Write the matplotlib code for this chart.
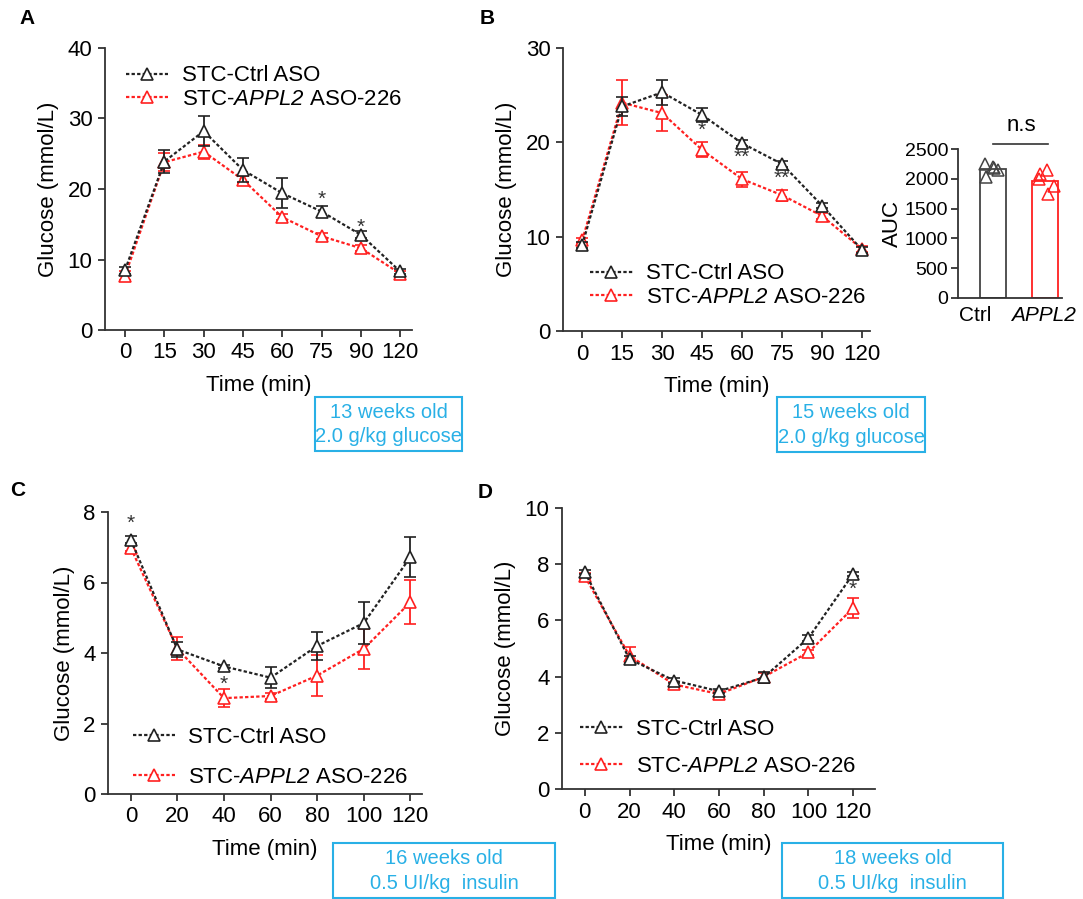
import numpy as np
import matplotlib
matplotlib.use("Agg")
import matplotlib.pyplot as plt
from matplotlib.patches import Rectangle
from matplotlib.lines import Line2D

plt.rcParams['font.family'] = ['Liberation Sans', 'DejaVu Sans']
plt.rcParams['mathtext.fontset'] = 'custom'
plt.rcParams['mathtext.rm'] = 'Liberation Sans:italic'
plt.rcParams['mathtext.it'] = 'Liberation Sans:italic'

W, H = 1083, 899
NEGRO = '#222222'
ROJO = '#FF2020'
AZUL = '#29B0E6'
FS = 16

# ---- datos panel A (GTT 13 semanas)
a_tiempo = ['0', '15', '30', '45', '60', '75', '90', '120']
a_ctrl = [8.5, 23.9, 28.2, 22.7, 19.4, 16.8, 13.5, 8.3]
a_ctrl_err = [0.5, 1.6, 2.1, 1.7, 2.1, 0.8, 0.5, 0.3]
a_aso = [7.7, 23.8, 25.3, 21.3, 16.0, 13.3, 11.6, 8.0]
a_aso_err = [0.6, 1.3, 1.0, 0.5, 0.4, 0.4, 0.4, 0.4]
a_sig = ['', '', '', '', '', '*', '*', '']

# ---- datos panel B (GTT 15 semanas)
b_tiempo = ['0', '15', '30', '45', '60', '75', '90', '120']
b_ctrl = [9.1, 23.8, 25.3, 22.9, 19.9, 17.7, 13.3, 8.6]
b_ctrl_err = [0.3, 1.0, 1.3, 0.7, 0.3, 0.3, 0.3, 0.3]
b_aso = [9.6, 24.2, 23.1, 19.2, 16.1, 14.4, 12.2, 8.7]
b_aso_err = [0.3, 2.4, 1.9, 0.8, 0.8, 0.6, 0.3, 0.3]
b_sig = ['', '', '', '*', '**', '**', '', '']

# ---- AUC panel B
auc_grupos = ['Ctrl', 'APPL2']
auc_ctrl = [2254, 2030, 2192, 2175, 2153]
auc_aso = [2140, 2000, 1880, 1740, 2080]
jit_ctrl = [-0.3, -0.28, -0.02, 0.02, 0.2]
jit_aso = [0.04, -0.12, 0.18, 0.06, -0.1]

# ---- datos panel C (ITT 16 semanas)
c_tiempo = ['0', '20', '40', '60', '80', '100', '120']
c_ctrl = [7.21, 4.1, 3.62, 3.30, 4.2, 4.85, 6.72]
c_ctrl_err = [0.1, 0.2, 0.05, 0.3, 0.4, 0.6, 0.57]
c_aso = [6.98, 4.12, 2.72, 2.78, 3.36, 4.12, 5.44]
c_aso_err = [0.08, 0.32, 0.25, 0.08, 0.58, 0.57, 0.62]
c_sig = ['*', '', '*', '', '', '', '']

# ---- datos panel D (ITT 18 semanas)
d_tiempo = ['0', '20', '40', '60', '80', '100', '120']
d_ctrl = [7.72, 4.62, 3.86, 3.48, 3.97, 5.37, 7.65]
d_ctrl_err = [0.08, 0.12, 0.1, 0.08, 0.2, 0.1, 0.08]
d_aso = [7.57, 4.74, 3.72, 3.38, 3.99, 4.86, 6.44]
d_aso_err = [0.1, 0.3, 0.1, 0.1, 0.15, 0.1, 0.36]
d_sig = ['', '', '', '', '', '', '*']

lab_ctrl = 'STC-Ctrl ASO'
lab_aso = r'STC-$\mathrm{APPL2}$ ASO-226'
LS = (0, (1.5, 1))


def caja(x0, y0, x1, y1):
    # rectangulo en pixeles (y desde arriba)
    return [x0 / W, 1 - y1 / H, (x1 - x0) / W, (y1 - y0) / H]


def estilo(ax):
    for s in ['top', 'right']:
        ax.spines[s].set_visible(False)
    for s in ['left', 'bottom']:
        ax.spines[s].set_linewidth(1.3)
        ax.spines[s].set_color('#333333')
    ax.tick_params(direction='out', length=5, width=1.3, color='#333333',
                   labelsize=FS, pad=4)


def curva(ax, y, err, color, z):
    x = np.arange(len(y))
    ax.errorbar(x, y, yerr=err, color=color, ls=LS, lw=1.6,
                marker='^', ms=9, mfc='white', mec=color, mew=1.2,
                capsize=4, elinewidth=1.3, capthick=1.3, zorder=z)


def panel(rect, tiempo, ctrl, ctrl_err, aso, aso_err, sig, sig_y, ylim, yticks,
          xlim, leg_anchor, leg_sp):
    ax = fig.add_axes(rect)
    curva(ax, aso, aso_err, ROJO, 3)
    curva(ax, ctrl, ctrl_err, NEGRO, 4)
    for i, s in enumerate(sig):
        if s:
            ax.text(i, sig_y[i], s, ha='center', va='center', fontsize=15,
                    color='#333333', zorder=5)
    ax.set_xticks(np.arange(len(tiempo)))
    ax.set_xticklabels(tiempo)
    ax.set_xlim(*xlim)
    ax.set_ylim(*ylim)
    ax.set_yticks(yticks)
    ax.set_ylabel('Glucose (mmol/L)', fontsize=FS, labelpad=6)
    ax.set_xlabel('Time (min)', fontsize=FS, labelpad=8)
    estilo(ax)
    h = [Line2D([], [], color=NEGRO, ls=LS, lw=1.6, marker='^', ms=9,
                mfc='white', mec=NEGRO, mew=1.2),
         Line2D([], [], color=ROJO, ls=LS, lw=1.6, marker='^', ms=9,
                mfc='white', mec=ROJO, mew=1.2)]
    ax.legend(h, [lab_ctrl, lab_aso], loc='upper left', bbox_to_anchor=leg_anchor,
              frameon=False, fontsize=FS, handlelength=1.9, handletextpad=0.6,
              labelspacing=leg_sp, borderaxespad=0)
    return ax


fig = plt.figure(figsize=(W / 100, H / 100), dpi=100)

# A
a_sig_y = [0, 0, 0, 0, 0, 18.6, 14.6, 0]
panel(caja(105, 48, 412, 330), a_tiempo, a_ctrl, a_ctrl_err, a_aso, a_aso_err,
      a_sig, a_sig_y, (0, 40), [0, 10, 20, 30, 40], (-0.51, 7.3),
      (0.04, 0.97), 0.12)

# B
b_sig_y = [0, 0, 0, 21.3, 18.4, 16.2, 0, 0]
panel(caja(563, 48, 870, 331), b_tiempo, b_ctrl, b_ctrl_err, b_aso, b_aso_err,
      b_sig, b_sig_y, (0, 30), [0, 10, 20, 30], (-0.48, 7.2),
      (0.06, 0.27), 0.1)

# AUC inset
axi = fig.add_axes(caja(958, 149, 1062, 298))
axi.bar([0], [np.mean(auc_ctrl)], width=0.5, color='white', edgecolor='#444444', lw=1.3)
axi.bar([1], [np.mean(auc_aso)], width=0.5, color='white', edgecolor=ROJO, lw=1.3)
axi.plot(np.array(jit_ctrl) * 0.5, auc_ctrl, ls='none', marker='^', ms=8,
         mfc='none', mec='#444444', mew=1.1)
axi.plot(1 + np.array(jit_aso), auc_aso, ls='none', marker='^', ms=8,
         mfc='none', mec=ROJO, mew=1.1)
axi.set_xlim(-0.68, 1.33)
axi.set_ylim(0, 2500)
axi.set_yticks([0, 500, 1000, 1500, 2000, 2500])
axi.set_xticks([-0.35, 0.97])
axi.set_xticklabels(auc_grupos)
estilo(axi)
axi.tick_params(axis='x', length=0, pad=6)
axi.tick_params(axis='y', labelsize=14, pad=2)
axi.get_xticklabels()[1].set_fontstyle('italic')
axi.get_xticklabels()[0].set_fontsize(15)
axi.get_xticklabels()[1].set_fontsize(15)
axi.set_ylabel('AUC', fontsize=FS, labelpad=1)
axi.plot([0, 1.05], [2590, 2590], color='#333333', lw=1.2, clip_on=False)
axi.text(0.55, 2720, 'n.s', ha='center', va='bottom', fontsize=FS)

# C
c_sig_y = [7.68, 0, 3.1, 0, 0, 0, 0]
panel(caja(108, 512, 422, 794), c_tiempo, c_ctrl, c_ctrl_err, c_aso, c_aso_err,
      c_sig, c_sig_y, (0, 8), [0, 2, 4, 6, 8], (-0.49, 6.25),
      (0.05, 0.27), 0.85)

# D
d_sig_y = [0, 0, 0, 0, 0, 0, 7.12]
panel(caja(562, 508, 875, 789), d_tiempo, d_ctrl, d_ctrl_err, d_aso, d_aso_err,
      d_sig, d_sig_y, (0, 10), [0, 2, 4, 6, 8, 10], (-0.51, 6.49),
      (0.03, 0.28), 0.7)

# recuadros azules
cajas = [(315, 397, 462, 451, '13 weeks old', '2.0 g/kg glucose'),
         (777, 397, 925, 452, '15 weeks old', '2.0 g/kg glucose'),
         (333, 843, 555, 898, '16 weeks old', '0.5 UI/kg  insulin'),
         (782, 843, 1003, 898, '18 weeks old', '0.5 UI/kg  insulin')]
for x0, y0, x1, y1, t1, t2 in cajas:
    r = caja(x0, y0, x1, y1)
    fig.patches.append(Rectangle((r[0], r[1]), r[2], r[3], transform=fig.transFigure,
                                 fill=False, edgecolor=AZUL, lw=1.5))
    xc = (x0 + x1) / 2 / W
    fig.text(xc, 1 - (y0 + (y1 - y0) * 0.28) / H, t1, ha='center', va='center',
             color=AZUL, fontsize=14.5)
    fig.text(xc, 1 - (y0 + (y1 - y0) * 0.74) / H, t2, ha='center', va='center',
             color=AZUL, fontsize=14.5)

# letras de panel
for x, y, t in [(27, 18, 'A'), (487, 18, 'B'), (18, 490, 'C'), (485, 493, 'D')]:
    fig.text(x / W, 1 - y / H, t, ha='center', va='center', fontsize=15,
             fontweight='bold')

fig.savefig('out.png', dpi=100)
